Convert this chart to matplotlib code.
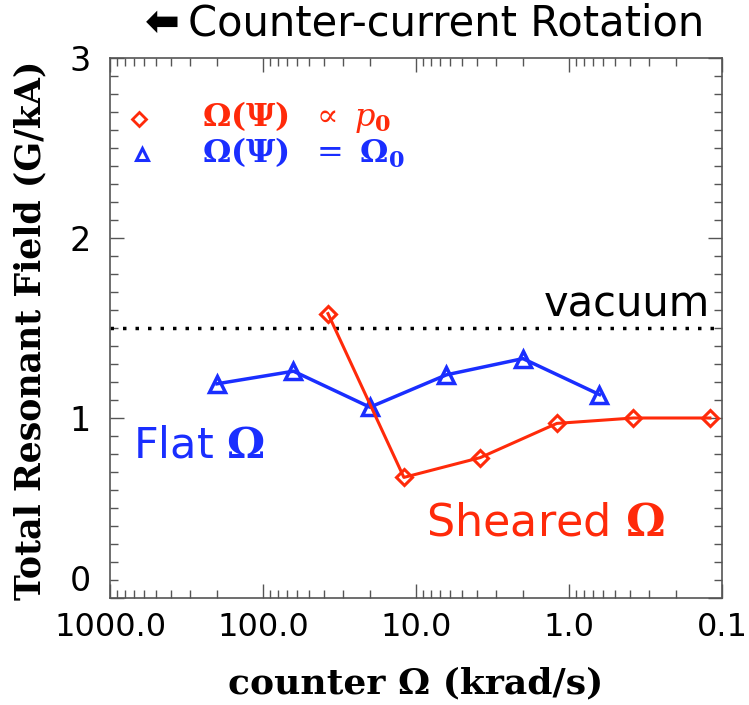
import matplotlib
matplotlib.use("Agg")
import matplotlib.pyplot as plt
from matplotlib.ticker import FixedLocator, NullFormatter, LogLocator

plt.rcParams['mathtext.fontset'] = 'dejavuserif'

# Data
flat_omega = [200.0, 63.2, 20.0, 6.32, 2.0, 0.632]
flat_field = [1.19, 1.26, 1.06, 1.24, 1.33, 1.13]
sheared_omega = [37.6, 12.0, 3.8, 1.2, 0.38, 0.12]
sheared_field = [1.58, 0.67, 0.78, 0.97, 1.0, 1.0]
vacuum_level = 1.5
xticks = [1000.0, 100.0, 10.0, 1.0, 0.1]
xticklabels = ['1000.0', '100.0', '10.0', '1.0', '0.1']
yticks = [0, 1, 2, 3]

RED = '#ff2a0a'
BLUE = '#1a2eff'
SANS = 'DejaVu Sans'
SERIF = 'DejaVu Serif'

fig = plt.figure(figsize=(7.49, 7.05), dpi=100)
ax = fig.add_axes([110/749, 107/705, 612/749, 540/705])

ax.plot(flat_omega, flat_field, color=BLUE, lw=2.5, marker='^', ms=11,
        mfc='none', mec=BLUE, mew=2.5, zorder=3)
ax.plot(sheared_omega, sheared_field, color=RED, lw=2.2, marker='D', ms=8,
        mfc='none', mec=RED, mew=2.2, zorder=3)
ax.axhline(vacuum_level, color='black', ls=(0, (1, 2.6)), lw=2.5)

ax.set_xscale('log')
ax.set_xlim(1000.0, 0.1)
ax.set_ylim(0, 3)
ax.set_xticks(xticks)
ax.set_xticklabels(xticklabels, fontfamily=SANS, fontsize=23)
ax.xaxis.set_minor_locator(LogLocator(base=10, subs=range(2, 10)))
ax.xaxis.set_minor_formatter(NullFormatter())
ax.set_yticks(yticks)
ax.set_yticklabels([str(v) for v in yticks], fontfamily=SANS, fontsize=24)
ax.yaxis.set_minor_locator(FixedLocator([i / 10 for i in range(31)]))
ax.get_yticklabels()[0].set_va('bottom')

for sp in ax.spines.values():
    sp.set_color('#555555')
    sp.set_linewidth(1.2)
ax.tick_params(which='both', direction='in', top=True, right=True, color='#555555', width=1.0)
ax.tick_params(axis='x', which='major', length=10, pad=10)
ax.tick_params(axis='y', which='major', length=10, pad=14)
ax.tick_params(which='minor', length=6)

# Axis labels
fig.text(416/749, 1 - 693/705, 'counter Ω (krad/s)', fontfamily=SERIF, fontweight='bold',
         fontsize=26, ha='center', va='baseline')
fig.text(30/749, 1 - 330/705, 'Total Resonant Field (G/kA)', fontfamily=SERIF, fontweight='bold',
         fontsize=25, ha='center', va='center', rotation=90)

# Title
fig.text(145/749, 1 - 23/705, '⬅', fontfamily='DejaVu Sans', fontsize=30, fontweight='bold', va='center', ha='left')
fig.text(188/749, 1 - 23/705, 'Counter-current Rotation', fontfamily=SANS, fontsize=30, va='center', ha='left')

# Legend
ax.plot([0.047], [0.887], transform=ax.transAxes, marker='D', ms=7, mfc='none', mec=RED, mew=2, ls='none', clip_on=False)
ax.plot([0.052], [0.822], transform=ax.transAxes, marker='^', ms=9, mfc='none', mec=BLUE, mew=2.2, ls='none', clip_on=False)
ax.text(0.150, 0.890, r'$\mathbf{\Omega(\Psi)}\ \ \propto\ \mathit{p}_\mathbf{0}$', transform=ax.transAxes,
        color=RED, fontsize=23, va='center', ha='left')
ax.text(0.150, 0.825, r'$\mathbf{\Omega(\Psi)}\ \ =\ \mathbf{\Omega_0}$', transform=ax.transAxes,
        color=BLUE, fontsize=23, va='center', ha='left')

# Annotations
ax.text(0.980, 0.545, 'vacuum', transform=ax.transAxes, fontfamily=SANS, fontsize=30, color='black', ha='right', va='center')
ax.text(0.038, 0.283, r'Flat $\mathbf{\Omega}$', transform=ax.transAxes, fontfamily=SANS, fontsize=31, color=BLUE, ha='left', va='center')
ax.text(0.907, 0.139, r'Sheared $\mathbf{\Omega}$', transform=ax.transAxes, fontfamily=SANS, fontsize=32, color=RED, ha='right', va='center')

fig.savefig('out.png', dpi=100)
